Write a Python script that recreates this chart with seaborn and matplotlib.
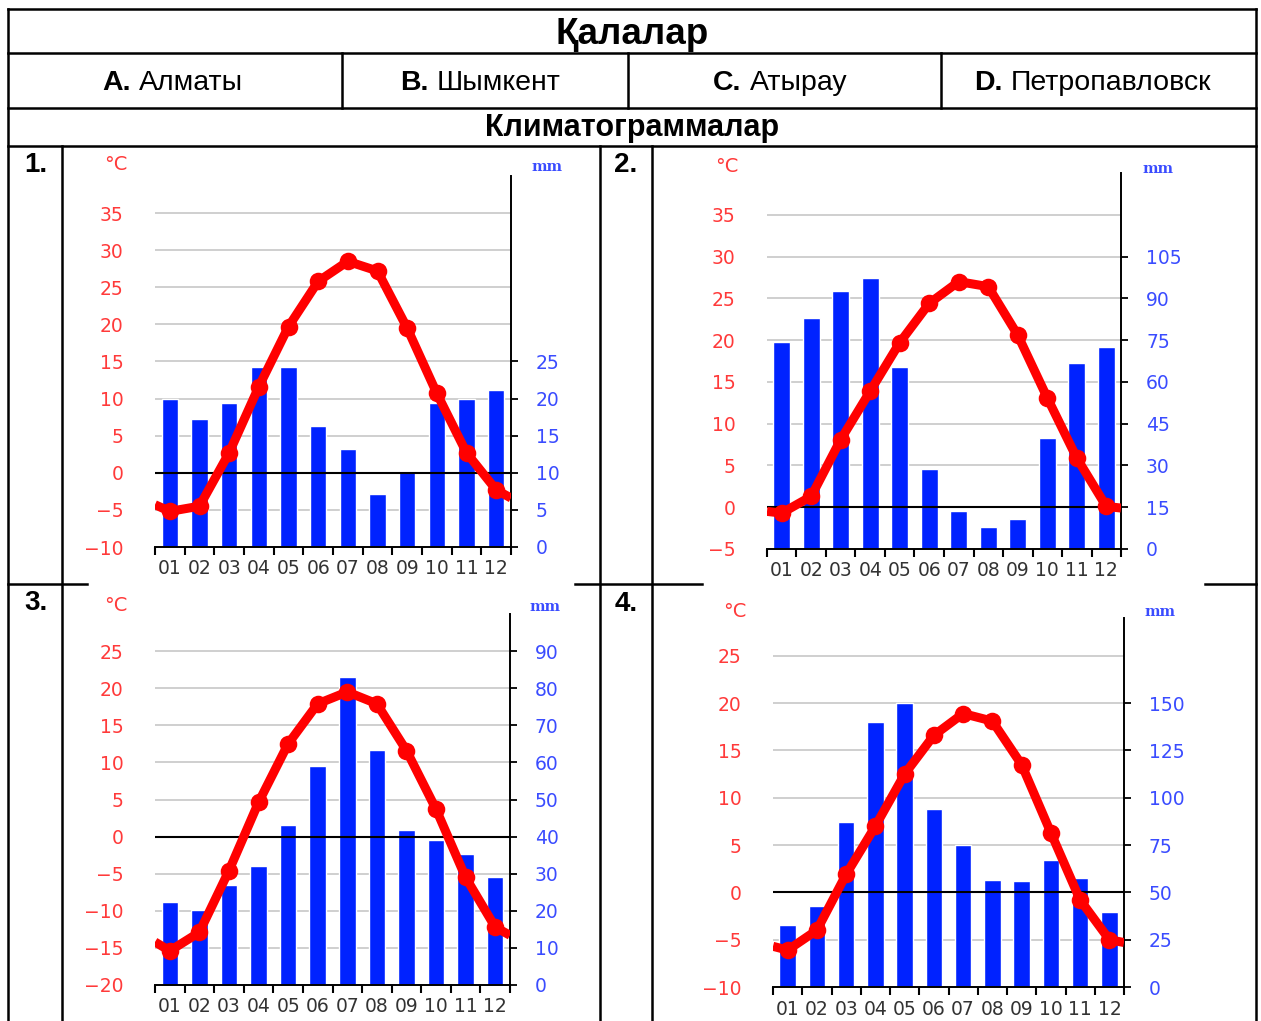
import matplotlib.pyplot as plt
import numpy as np
import seaborn as sns

# --- data ---
MONTHS = ["01", "02", "03", "04", "05", "06", "07", "08", "09", "10", "11", "12"]

CITY_KEYS = ["A.", "B.", "C.", "D."]
CITY_NAMES = ["Алматы", "Шымкент", "Атырау", "Петропавловск"]
CHART_NUMBERS = ["1.", "2.", "3.", "4."]

TEMP_1 = [-5.2, -4.5, 2.7, 11.6, 19.7, 25.8, 28.5, 27.2, 19.5, 10.7, 2.7, -2.3]
PREC_1 = [20.0, 17.3, 19.4, 24.3, 24.3, 16.3, 13.2, 7.1, 10.2, 19.4, 20.0, 21.2]
EDGE_1 = [-4.3, -3.4]
TEMP_TICKS_1 = [-10, -5, 0, 5, 10, 15, 20, 25, 30, 35]
PREC_TICKS_1 = [0, 5, 10, 15, 20, 25]

TEMP_2 = [-0.7, 1.3, 8.1, 13.9, 19.7, 24.4, 27.0, 26.4, 20.6, 13.1, 5.9, 0.1]
PREC_2 = [74.5, 82.9, 92.5, 97.3, 65.5, 28.8, 13.5, 7.9, 10.6, 39.8, 66.7, 72.5]
EDGE_2 = [-0.5, -0.1]
TEMP_TICKS_2 = [-5, 0, 5, 10, 15, 20, 25, 30, 35]
PREC_TICKS_2 = [0, 15, 30, 45, 60, 75, 90, 105]

TEMP_3 = [-15.4, -12.9, -4.6, 4.6, 12.5, 17.9, 19.5, 17.9, 11.6, 3.7, -5.5, -12.2]
PREC_3 = [22.3, 20.3, 27.0, 32.2, 43.2, 59.0, 82.9, 63.3, 41.9, 39.0, 35.4, 29.1]
EDGE_3 = [-14.2, -13.3]
TEMP_TICKS_3 = [-20, -15, -10, -5, 0, 5, 10, 15, 20, 25]
PREC_TICKS_3 = [0, 10, 20, 30, 40, 50, 60, 70, 80, 90]

TEMP_4 = [-6.1, -4.0, 1.9, 7.0, 12.5, 16.6, 18.9, 18.1, 13.5, 6.3, -0.8, -5.0]
PREC_4 = [32.6, 42.7, 87.0, 140.3, 150.3, 93.9, 75.0, 56.6, 55.9, 66.9, 57.7, 39.7]
EDGE_4 = [-5.7, -5.3]
TEMP_TICKS_4 = [-10, -5, 0, 5, 10, 15, 20, 25]
PREC_TICKS_4 = [0, 25, 50, 75, 100, 125, 150]

# temperature range of each chart and mm per degree on the right axis
TEMP_LIMS = [(-10, 40), (-5, 40), (-20, 30), (-10, 29)]
MM_PER_DEG = [1, 3, 2, 5]

# --- layout, in pixels of the 1261x1021 picture ---
W, H = 1261, 1021
PLOT_RECTS = [(155, 176, 511, 547), (767, 173, 1121, 549),
              (155, 614, 510, 985), (773, 618, 1124, 987)]
DEG_POS = [(116, 165), (727, 167), (116, 605), (735, 611)]
MM_POS = [(547, 167), (1158, 169), (545, 607), (1160, 612)]
NUM_POS = [(36, 165), (626, 165), (36, 603), (626, 604)]

RED = "#ff0000"
RED_LABEL = "#ff3a3a"
BLUE = "#0022ff"
BLUE_LABEL = "#3a4cff"
GRID = "#cccccc"
TABLE_FONT = ["Liberation Sans", "DejaVu Sans"]

sns.set_style("white")
plt.rcParams["font.family"] = ["DejaVu Sans"]
plt.rcParams["text.color"] = "black"

fig = plt.figure(figsize=(W / 100, H / 100), dpi=100)

# background layer for the table
bg = fig.add_axes([0, 0, 1, 1])
bg.set_xlim(0, W)
bg.set_ylim(H, 0)
bg.axis("off")


def hline(y, x0, x1):
    bg.plot([x0, x1], [y, y], color="black", lw=1.8, solid_capstyle="projecting")


def vline(x, y0, y1):
    bg.plot([x, x], [y0, y1], color="black", lw=1.8, solid_capstyle="projecting")


hline(9, 8, 1256)
hline(53, 8, 1256)
hline(108, 8, 1256)
hline(146, 8, 1256)
vline(8, 9, H)
vline(1256, 9, H)
for x in [342, 628, 941]:
    vline(x, 53, 108)
for x in [62, 600, 652]:
    vline(x, 146, H)
hline(584, 8, 87)
hline(584, 575, 702)
hline(584, 1205, 1256)

bg.text(632, 34, "Қалалар", ha="center", va="center", fontsize=26.5,
        fontweight="bold", family=TABLE_FONT, color="black")
bg.text(632, 128, "Климатограммалар", ha="center", va="center", fontsize=22,
        fontweight="bold", family=TABLE_FONT, color="black")

split_x = [(131, 139), (428, 437), (741, 750), (1002, 1011)]
for key, name, (xk, xn) in zip(CITY_KEYS, CITY_NAMES, split_x):
    bg.text(xk, 83, key, ha="right", va="center", fontsize=20.5,
            fontweight="bold", family=TABLE_FONT, color="black")
    bg.text(xn, 83, name, ha="left", va="center", fontsize=20.5,
            family=TABLE_FONT, color="black")

for label, (x, y) in zip(CHART_NUMBERS, NUM_POS):
    bg.text(x, y, label, ha="center", va="center", fontsize=20,
            fontweight="bold", family=TABLE_FONT, color="black")


def climograph(rect, temps, precs, edges, t_ticks, p_ticks, t_lim, k):
    x0, y0, x1, y1 = rect
    ax_p = fig.add_axes([x0 / W, 1 - y1 / H, (x1 - x0) / W, (y1 - y0) / H])
    ax_p.patch.set_visible(False)
    ax_t = ax_p.twinx()

    # light grid below the bars
    for t in t_ticks[1:]:
        if t != 0:
            ax_p.axhline((t - t_lim[0]) * k, color=GRID, lw=1.3, zorder=0)

    sns.barplot(x=MONTHS, y=precs, ax=ax_p, color=BLUE, width=0.56,
                saturation=1, errorbar=None, zorder=2)

    ax_t.axhline(0, color="black", lw=1.5, zorder=1)
    line_x = [-0.5] + list(range(12)) + [11.5]
    line_y = [edges[0]] + list(temps) + [edges[1]]
    sns.lineplot(x=line_x, y=line_y, ax=ax_t, color=RED, lw=6.5,
                 solid_capstyle="butt", zorder=3)
    sns.scatterplot(x=list(range(12)), y=temps, ax=ax_t, color=RED, s=160,
                    linewidth=0, zorder=4)

    ax_p.set_ylim(0, (t_lim[1] - t_lim[0]) * k)
    ax_t.set_ylim(*t_lim)
    ax_p.set_xlim(-0.5, 11.5)
    ax_t.set_xlim(-0.5, 11.5)

    ax_t.set_yticks(t_ticks)
    ax_t.yaxis.tick_left()
    ax_t.tick_params(axis="y", left=False, right=False, labelleft=True,
                     labelright=False, labelcolor=RED_LABEL, labelsize=13.5,
                     pad=19)
    ax_p.set_yticks(p_ticks)
    ax_p.yaxis.tick_right()
    ax_p.tick_params(axis="y", right=True, left=False, labelright=True,
                     labelleft=False, length=5, width=1.3, direction="out",
                     color="black", labelcolor=BLUE_LABEL, labelsize=13.5,
                     pad=13)

    ax_p.set_xticks(np.arange(13) - 0.5, labels=[""] * 13)
    ax_p.set_xticks(np.arange(12), labels=MONTHS, minor=True)
    ax_p.tick_params(axis="x", which="major", bottom=True, length=6,
                     width=1.5, direction="out", color="black")
    ax_p.tick_params(axis="x", which="minor", bottom=True, length=0, pad=9,
                     labelsize=13.5, labelcolor="#333333")

    for side in ["left", "top"]:
        ax_p.spines[side].set_visible(False)
    for side in ["right", "bottom"]:
        ax_p.spines[side].set_visible(True)
        ax_p.spines[side].set_color("black")
        ax_p.spines[side].set_linewidth(1.4)
    for side in ax_t.spines:
        ax_t.spines[side].set_visible(False)
    ax_p.set_xlabel("")
    ax_p.set_ylabel("")
    ax_t.set_ylabel("")


charts = [
    (TEMP_1, PREC_1, EDGE_1, TEMP_TICKS_1, PREC_TICKS_1),
    (TEMP_2, PREC_2, EDGE_2, TEMP_TICKS_2, PREC_TICKS_2),
    (TEMP_3, PREC_3, EDGE_3, TEMP_TICKS_3, PREC_TICKS_3),
    (TEMP_4, PREC_4, EDGE_4, TEMP_TICKS_4, PREC_TICKS_4),
]

for i, (temps, precs, edges, t_ticks, p_ticks) in enumerate(charts):
    climograph(PLOT_RECTS[i], temps, precs, edges, t_ticks, p_ticks,
               TEMP_LIMS[i], MM_PER_DEG[i])
    bg.text(*DEG_POS[i], "°C", ha="center", va="center", fontsize=14,
            color=RED_LABEL)
    bg.text(*MM_POS[i], "mm", ha="center", va="center", fontsize=10.5,
            color=BLUE_LABEL, family="DejaVu Serif", fontweight="bold")

fig.savefig("out.png", dpi=100)
